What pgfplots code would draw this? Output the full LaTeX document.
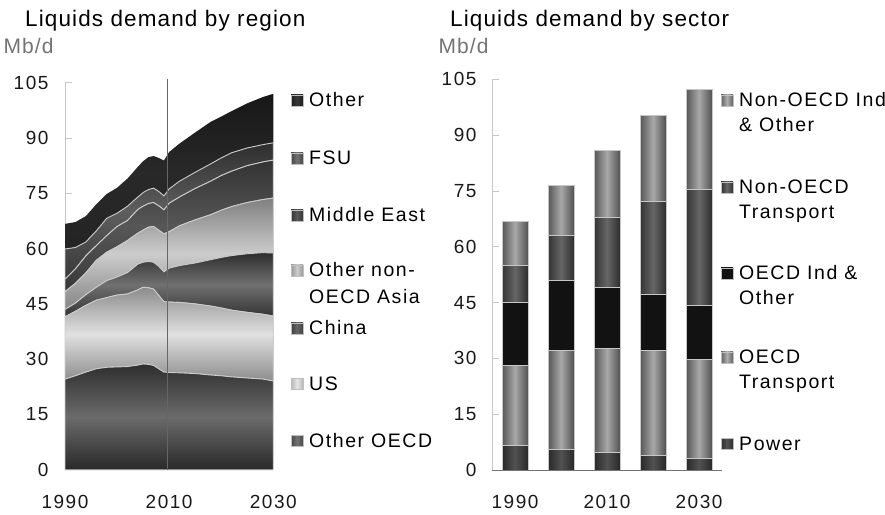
\documentclass[border=0pt]{standalone}
\usepackage{pgfplots}
\pgfplotsset{compat=1.18}
\usepackage{pgfplotstable}
\usepackage{fontspec}
\setmainfont{Liberation Sans}
\newfontfamily\titlefont{Liberation Sans}[LetterSpace=5]
\newfontfamily\legfont{Liberation Sans}[LetterSpace=8]
\newfontfamily\tickfont{Liberation Sans}[LetterSpace=8]

\pgfplotstableread{
year oo us cn onoa me fsu oth
1990 24.6 16.9 2.0 4.8 3.4 8.2 6.8
1992 25.5 17.5 2.2 5.4 3.9 5.8 6.9
1994 26.5 18.1 2.9 5.9 4.6 3.8 7.0
1996 27.4 18.6 3.5 7.3 4.0 4.0 7.2
1998 27.8 18.9 4.6 7.7 4.5 4.7 6.6
2000 27.9 19.5 4.9 8.2 5.5 3.6 6.9
2002 28.0 19.7 5.8 8.7 5.4 3.9 7.5
2004 28.4 20.4 7.0 8.4 6.4 3.4 8.2
2005 28.7 20.8 6.8 8.7 6.5 3.7 8.5
2006 28.6 20.8 7.1 9.3 6.4 3.8 8.8
2007 28.3 20.7 7.3 9.7 6.5 3.9 8.7
2008 27.4 19.9 7.9 9.8 6.6 3.9 9.1
2009 26.5 19.1 8.1 10.3 6.5 3.8 9.6
2010 26.4 19.1 9.2 9.9 7.7 3.9 10.0
2012 26.3 19.1 10.0 10.8 7.8 4.3 10.2
2015 26.1 18.9 11.1 11.7 8.5 4.4 10.8
2018 25.7 18.7 12.6 12.2 9.1 4.7 11.4
2020 25.5 18.4 13.7 12.8 9.4 4.8 11.2
2022 25.2 18.1 14.8 13.3 9.6 5.0 11.3
2025 24.9 17.8 15.9 13.9 10.0 4.8 12.1
2028 24.6 17.6 16.7 14.4 10.2 4.7 12.9
2030 24.1 17.6 17.1 14.9 10.3 4.7 13.3
}\regiondata

\pgfplotsset{
  mystyle/.style={
    scale only axis,
    axis lines=left,
    axis line style={-},
    x axis line style={draw=black!55, line width=1pt},
    y axis line style={draw=black!22, line width=0.8pt},
    ymin=0, ymax=105,
    ytick={0,15,...,105},
    xtick={1990,2010,2030},
    major tick length=7pt,
    tick align=inside,
    ytick style={draw=black!22, line width=0.8pt},
    xtick style={draw=none},
    tick label style={font=\tickfont\fontsize{19}{22}\selectfont, text=black!90},
    /pgf/number format/assume math mode=true,
    /pgf/number format/1000 sep={},
    xticklabel style={yshift=-22pt},
  },
  rightgeom/.style={
    scale only axis,
    at={(492pt,44pt)}, anchor=south west,
    width=230pt, height=390.6pt,
    xmin=1985, xmax=2035, ymin=0, ymax=105,
  },
  barax/.style={rightgeom, hide axis, ybar stacked, bar width=26pt},
  powerst/.style={draw=black!22, line width=0.8pt, left color=black!84, right color=black!84, middle color=black!68},
  oecdTst/.style={draw=black!22, line width=0.8pt, left color=black!66, right color=black!68, middle color=black!34},
  oecdIst/.style={draw=black!22, line width=0.8pt, fill=black!93},
  nonTst/.style={draw=black!22, line width=0.8pt, left color=black!80, right color=black!82, middle color=black!60},
  nonIst/.style={draw=black!22, line width=0.8pt, left color=black!66, right color=black!68, middle color=black!34},
}

% one stacked bar (year, Power, OECD Transport, OECD Ind & Other, Non-OECD Transport, Non-OECD Ind & Other)
\newcommand{\bargroup}[6]{%
\begin{axis}[barax]
\addplot[powerst] coordinates {(#1,#2)};
\addplot[oecdTst] coordinates {(#1,#3)};
\addplot[oecdIst] coordinates {(#1,#4)};
\addplot[nonTst] coordinates {(#1,#5)};
\addplot[nonIst] coordinates {(#1,#6)};
\end{axis}}

\newcommand{\legsq}[4]{%
  \shade[left color=#3, right color=#3, middle color=#4, draw=black!25, line width=0.4pt] (#1pt,#2pt+0.5pt) rectangle ++(12pt,11.5pt);}

\begin{document}
\begin{tikzpicture}
\useasboundingbox (0pt,0pt) rectangle (885pt,514pt);

% ---------------- left chart ----------------
\begin{axis}[mystyle,
  at={(65pt,44.2pt)}, anchor=south west,
  width=208.3pt, height=387.1pt,
  xmin=1990, xmax=2030,
  stack plots=y, clip=false,
  yticklabel style={xshift=-13pt},
  after end axis/.code={\draw[black!60, line width=0.9pt] (axis cs:2009.6,0) -- (axis cs:2009.6,106);},
]
\addplot[draw=black!20, line width=0.9pt, top color=black!82, bottom color=black!84, middle color=black!58]
  table[x=year,y=oo]{\regiondata} \closedcycle;
\addplot[draw=black!20, line width=0.9pt, top color=black!45, bottom color=black!45, middle color=black!12]
  table[x=year,y=us]{\regiondata} \closedcycle;
\addplot[draw=black!20, line width=0.9pt, top color=black!82, bottom color=black!80, middle color=black!56]
  table[x=year,y=cn]{\regiondata} \closedcycle;
\addplot[draw=black!20, line width=0.9pt, top color=black!50, bottom color=black!48, middle color=black!20]
  table[x=year,y=onoa]{\regiondata} \closedcycle;
\addplot[draw=black!20, line width=0.9pt, top color=black!80, bottom color=black!78, middle color=black!66]
  table[x=year,y=me]{\regiondata} \closedcycle;
\addplot[draw=black!20, line width=0.9pt, top color=black!82, bottom color=black!78, middle color=black!63]
  table[x=year,y=fsu]{\regiondata} \closedcycle;
\addplot[draw=none, top color=black!91, bottom color=black!86, middle color=black!84]
  table[x=year,y=oth]{\regiondata} \closedcycle;
\end{axis}

% ---------------- right chart ----------------
\bargroup{1990}{6.5}{21.6}{17.0}{9.8}{11.9}
\bargroup{2000}{5.6}{26.6}{18.7}{12.2}{13.3}
\bargroup{2010}{4.8}{27.9}{16.4}{18.7}{18.2}
\bargroup{2020}{3.8}{28.4}{15.0}{25.1}{23.1}
\bargroup{2030}{3.1}{26.7}{14.4}{31.3}{26.8}
\begin{axis}[mystyle, rightgeom,
  yticklabel style={xshift=-12pt},
]
\end{axis}

% ---------------- titles ----------------
\node[anchor=base west, inner sep=0] at (25pt,487.3pt) {\titlefont\fontsize{22.5}{27}\selectfont Liquids demand by region};
\node[anchor=base west, inner sep=0, text=black!55] at (3.5pt,460.7pt) {\titlefont\fontsize{21}{25}\selectfont Mb/d};
\node[anchor=base west, inner sep=0] at (450pt,487.3pt) {\titlefont\fontsize{22.5}{27}\selectfont Liquids demand by sector};
\node[anchor=base west, inner sep=0, text=black!55] at (438.5pt,460.7pt) {\titlefont\fontsize{21}{25}\selectfont Mb/d};

% ---------------- left legend ----------------
\legsq{291}{407}{black!88}{black!78}
\legsq{291}{349}{black!72}{black!55}
\legsq{291}{292}{black!80}{black!65}
\legsq{291}{237}{black!40}{black!20}
\legsq{291}{179}{black!75}{black!60}
\legsq{291}{124}{black!28}{black!10}
\legsq{291}{67}{black!72}{black!55}
\begin{scope}[every node/.style={anchor=base west, inner sep=0, font=\legfont\fontsize{19.5}{23}\selectfont}]
\node at (309pt,407pt) {Other};
\node at (309pt,349pt) {FSU};
\node at (309pt,292pt) {Middle East};
\node at (309pt,237pt) {Other non-};
\node at (309pt,210pt) {OECD Asia};
\node at (309pt,179pt) {China};
\node at (309pt,124pt) {US};
\node at (309pt,67pt) {Other OECD};
\end{scope}

% ---------------- right legend ----------------
\legsq{721}{407}{black!62}{black!32}
\legsq{721}{320}{black!80}{black!60}
\legsq{721}{234}{black!93}{black!93}
\legsq{721}{150}{black!62}{black!32}
\legsq{721}{64}{black!82}{black!68}
\begin{scope}[every node/.style={anchor=base west, inner sep=0, font=\legfont\fontsize{19.5}{23}\selectfont}]
\node at (739pt,407pt) {Non-OECD Ind};
\node at (739pt,382pt) {\& Other};
\node at (739pt,320pt) {Non-OECD};
\node at (739pt,295pt) {Transport};
\node at (739pt,234pt) {OECD Ind \&};
\node at (739pt,209pt) {Other};
\node at (739pt,150pt) {OECD};
\node at (739pt,125pt) {Transport};
\node at (739pt,64pt) {Power};
\end{scope}
\end{tikzpicture}
\end{document}
